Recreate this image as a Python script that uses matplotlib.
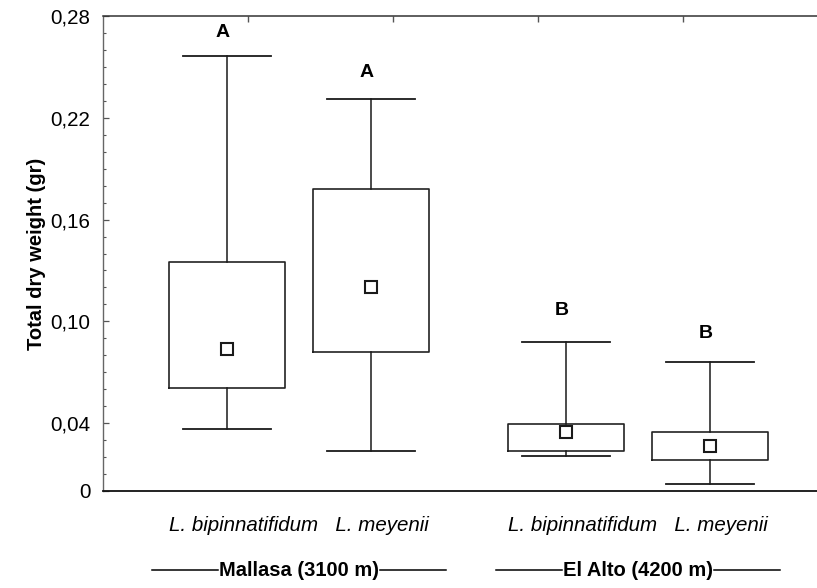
import matplotlib
matplotlib.use("Agg")
import matplotlib.pyplot as plt
from matplotlib.lines import Line2D
from matplotlib.ticker import FixedLocator, MultipleLocator

# ---- data -----------------------------------------------------------------
sites = ["Mallasa (3100 m)", "El Alto (4200 m)"]
species = ["L. bipinnatifidum", "L. meyenii"]
whisker_low = [0.0365, 0.0235, 0.0206, 0.0041]
box_low = [0.061, 0.082, 0.0235, 0.0182]
means = [0.0835, 0.120, 0.0347, 0.0265]
box_high = [0.135, 0.178, 0.0394, 0.0347]
whisker_high = [0.2565, 0.231, 0.0876, 0.0759]
letters = ["A", "A", "B", "B"]
y_ticks = [0, 0.04, 0.10, 0.16, 0.22, 0.28]
y_tick_labels = ["0", "0,04", "0,10", "0,16", "0,22", "0,28"]

# ---- layout ---------------------------------------------------------------
group_centers = [1.352, 3.69]
half_gap = 0.497
positions = [c + s * half_gap for c in group_centers for s in (-1, 1)]
letter_gaps = [13.7, 15.8, 19.4, 17.3]  # points above the upper whisker

plt.rcParams["font.family"] = ["Liberation Sans", "DejaVu Sans"]
ink = "#1a1a1a"

fig = plt.figure(figsize=(8.17, 5.88), dpi=100)
ax = fig.add_axes([103 / 817, 97 / 588, 725 / 817, 475 / 588])

stats = []
for lo, q1, m, q3, hi in zip(whisker_low, box_low, means, box_high, whisker_high):
    stats.append(dict(whislo=lo, q1=q1, med=m, mean=m, q3=q3, whishi=hi, fliers=[]))

ax.bxp(
    stats,
    positions=positions,
    widths=0.8,
    capwidths=0.607,
    showmeans=True,
    showfliers=False,
    manage_ticks=False,
    boxprops=dict(color="#222222", linewidth=1.2),
    whiskerprops=dict(color=ink, linewidth=1.1),
    capprops=dict(color=ink, linewidth=1.3),
    medianprops=dict(linewidth=0),
    meanprops=dict(marker="s", markersize=8, markerfacecolor="white",
                   markeredgecolor=ink, markeredgewidth=1.5),
)

# significance letters
for x, hi, lab, gap in zip(positions, whisker_high, letters, letter_gaps):
    ax.annotate(lab, xy=(x, hi), xytext=(-3, gap), textcoords="offset points",
                ha="center", va="baseline", fontsize=14, fontweight="bold",
                color="black")

ax.set_xlim(0, 5)
ax.set_ylim(0, 0.28)
ax.yaxis.set_major_locator(FixedLocator(y_ticks))
ax.set_yticklabels(y_tick_labels)
ax.yaxis.set_minor_locator(MultipleLocator(0.01))
ax.tick_params(axis="y", which="major", direction="in", length=4, width=0.9,
               labelsize=14.8, pad=9, colors="#555555", labelcolor="black")
ax.tick_params(axis="y", which="minor", direction="in", length=2.5, width=0.8,
               colors="#555555")
ax.set_xticks([1, 2, 3, 4])
ax.tick_params(axis="x", which="both", bottom=False, labelbottom=False,
               top=True, direction="in", length=4, width=1.0, colors="#555555")

ax.spines["right"].set_visible(False)
ax.spines["left"].set_color("#666666")
ax.spines["left"].set_linewidth(1.0)
ax.spines["top"].set_color("#333333")
ax.spines["top"].set_linewidth(1.1)
ax.spines["bottom"].set_color("#111111")
ax.spines["bottom"].set_linewidth(1.3)

ax.set_ylabel("Total dry weight (gr)", fontsize=14.5, fontweight="bold",
              labelpad=3)

# species and site labels below the axis
to_fig = lambda xd: fig.transFigure.inverted().transform(
    ax.transData.transform((xd, 0)))[0]
site_texts = []
for c, site in zip(group_centers, sites):
    xf = to_fig(c)
    fig.text(xf, 1 - 531 / 588, "   ".join(species), ha="center",
             va="baseline", fontsize=14.8, fontstyle="italic")
    site_texts.append(fig.text(xf, 1 - 576 / 588, site, ha="center",
                               va="baseline", fontsize=14.5, fontweight="bold"))

fig.canvas.draw()
renderer = fig.canvas.get_renderer()
inv = fig.transFigure.inverted()
line_px = 66
for t in site_texts:
    bb = t.get_window_extent(renderer)
    y_mid = 588 - 570
    for x0, x1 in ((bb.x0 - 1 - line_px, bb.x0 - 1), (bb.x1 + 1, bb.x1 + 1 + line_px)):
        (fx0, fy), (fx1, _) = inv.transform([(x0, y_mid), (x1, y_mid)])
        fig.add_artist(Line2D([fx0, fx1], [fy, fy], transform=fig.transFigure,
                              color="black", linewidth=1.1))

fig.savefig("out.png", dpi=100)
